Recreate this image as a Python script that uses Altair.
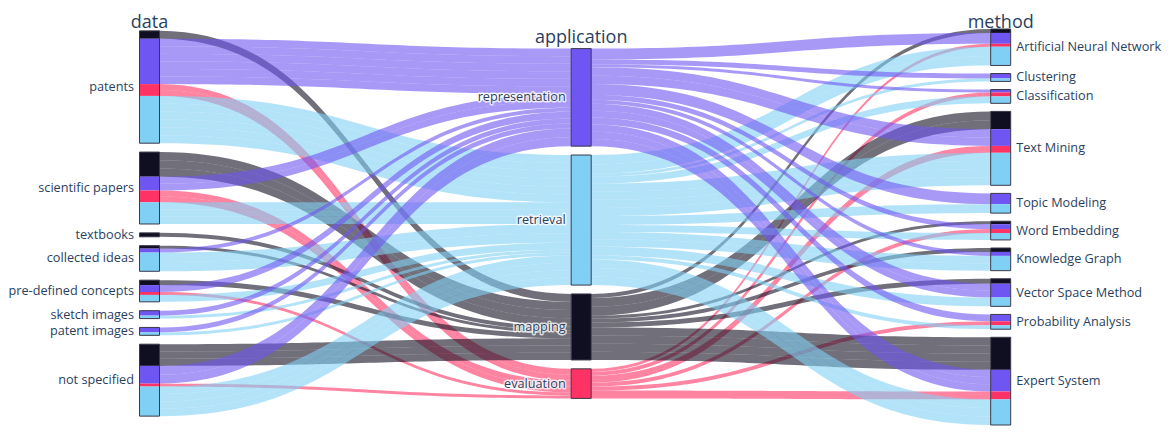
import altair as alt
import numpy as np
import pandas as pd

# ---------------- data ----------------
data_nodes = ["patents", "scientific papers", "textbooks", "collected ideas",
              "pre-defined concepts", "sketch images", "patent images", "not specified"]
method_nodes = ["Artificial Neural Network", "Clustering", "Classification", "Text Mining",
                "Topic Modeling", "Word Embedding", "Knowledge Graph",
                "Vector Space Method", "Probability Analysis", "Expert System"]
applications = ["mapping", "representation", "evaluation", "retrieval"]
application_column = ["representation", "retrieval", "mapping", "evaluation"]
column_titles = ["data", "application", "method"]

# flows data -> application (one value per data node)
data_to_mapping = [8, 25, 4, 3, 5, 0, 0, 22]
data_to_representation = [46, 14, 0, 4, 7, 5, 5, 18]
data_to_evaluation = [12, 12, 0, 0, 3, 0, 0, 3]
data_to_retrieval = [48, 22, 0, 19, 7, 3, 3, 30]

# flows application -> method (one value per method node)
mapping_to_method = [4, 0, 0, 18, 0, 3, 4, 5, 0, 33]
representation_to_method = [11, 5, 3, 17, 11, 5, 4, 14, 7, 22]
evaluation_to_method = [3, 0, 4, 7, 0, 4, 0, 0, 4, 8]
retrieval_to_method = [19, 3, 7, 33, 9, 7, 15, 9, 4, 26]

data_flows = {"mapping": data_to_mapping, "representation": data_to_representation,
              "evaluation": data_to_evaluation, "retrieval": data_to_retrieval}
method_flows = {"mapping": mapping_to_method, "representation": representation_to_method,
                "evaluation": evaluation_to_method, "retrieval": retrieval_to_method}

# ---------------- style / layout ----------------
COLORS = ["#100f22", "#6f55f2", "#fe3264", "#80d0f5"]
TEXT = "#2a3f5f"
FONT = "Open Sans"
PAD = 9.0
CENTER = 226.6
NODE_W = 20.0
COL_X = [139.5, 571.2, 990.7]
W, H = 1153, 418
STRAND = 8.0  # thickness of the individual strands that make up a flow


def stack_centered(totals):
    span = sum(totals) + PAD * (len(totals) - 1)
    return stack_from(totals, CENTER - span / 2, PAD)


def stack_from(totals, top, pad):
    y = top
    out = []
    for t in totals:
        out.append((y, y + t))
        y += t + pad
    return out


left_tot = [sum(data_flows[a][i] for a in applications) for i in range(len(data_nodes))]
mid_tot = [sum(data_flows[a]) for a in application_column]
right_tot = [sum(method_flows[a][j] for a in applications) for j in range(len(method_nodes))]

# vertical scale: slight compression so everything fits in the page
span_r = sum(right_tot) + PAD * (len(right_tot) - 1)
top_ref, bot_ref = CENTER - span_r / 2, CENTER + span_r / 2
s = (425 - 22) / (bot_ref - top_ref)
r0 = top_ref + (8 - 22) / s
r1 = top_ref + (8 + H - 22) / s

left_pos = stack_centered(left_tot)
mid_pos = dict(zip(application_column, stack_centered(mid_tot)))
# right column starts a little lower, leaving room for its title
right_top = top_ref + (29 - 22) / s
pad_r = (bot_ref - right_top - sum(right_tot)) / (len(right_tot) - 1)
right_pos = stack_from(right_tot, right_top, pad_r)

seg_rows, outline_rows, links = [], [], []
left_labels, mid_labels, right_labels = [], [], []

# left column + stage 1 links
mid_in = {a: mid_pos[a][0] for a in application_column}
for i, name in enumerate(data_nodes):
    y0, y1 = left_pos[i]
    outline_rows.append(dict(x=COL_X[0], x2=COL_X[0] + NODE_W, y=y0, y2=y1))
    left_labels.append(dict(x=COL_X[0] - 5.5, y=(y0 + y1) / 2, text=name))
    y = y0
    for a in applications:
        v = data_flows[a][i]
        if v <= 0:
            continue
        seg_rows.append(dict(x=COL_X[0], x2=COL_X[0] + NODE_W, y=y, y2=y + v, app=a))
        links.append((COL_X[0] + NODE_W, y, COL_X[1], mid_in[a], v, a))
        mid_in[a] += v
        y += v

# middle column
for a in application_column:
    y0, y1 = mid_pos[a]
    seg_rows.append(dict(x=COL_X[1], x2=COL_X[1] + NODE_W, y=y0, y2=y1, app=a))
    outline_rows.append(dict(x=COL_X[1], x2=COL_X[1] + NODE_W, y=y0, y2=y1))
    mid_labels.append(dict(x=COL_X[1] - 5.5, y=(y0 + y1) / 2, text=a))

# right column + stage 2 links
mid_out = {a: mid_pos[a][0] for a in application_column}
for j, name in enumerate(method_nodes):
    y0, y1 = right_pos[j]
    outline_rows.append(dict(x=COL_X[2], x2=COL_X[2] + NODE_W, y=y0, y2=y1))
    right_labels.append(dict(x=COL_X[2] + NODE_W + 5.5, y=(y0 + y1) / 2, text=name))
    y = y0
    for a in applications:
        v = method_flows[a][j]
        if v <= 0:
            continue
        seg_rows.append(dict(x=COL_X[2], x2=COL_X[2] + NODE_W, y=y, y2=y + v, app=a))
        links.append((COL_X[1] + NODE_W, mid_out[a], COL_X[2], y, v, a))
        mid_out[a] += v
        y += v

# link bands as bezier ribbons, each split into strands
t = np.linspace(0, 1, 48)
f = 3 * t ** 2 - 2 * t ** 3
link_rows = []
k = 0
for (x0, a0, x1, b0, v, app) in links:
    xm = (x0 + x1) / 2
    bx = (1 - t) ** 3 * x0 + 3 * (1 - t) ** 2 * t * xm + 3 * (1 - t) * t ** 2 * xm + t ** 3 * x1
    n = max(1, int(round(v / STRAND)))
    h = v / n
    for s_i in range(n):
        sa, sb = a0 + s_i * h, b0 + s_i * h
        top = sa * (1 - f) + sb * f
        bot = top + h
        for xx, yt, yb in zip(bx, top, bot):
            link_rows.append(dict(link=k, x=round(float(xx), 2), yt=round(float(yt), 2),
                                  yb=round(float(yb), 2), app=app))
        k += 1

links_df = pd.DataFrame(link_rows)
seg_df = pd.DataFrame(seg_rows)
outline_df = pd.DataFrame(outline_rows)

xs = alt.Scale(domain=[8, 8 + W], nice=False, zero=False)
ys = alt.Scale(domain=[r0, r1], nice=False, zero=False, reverse=True)
cs = alt.Scale(domain=applications, range=COLORS)

link_layer = alt.Chart(links_df).mark_area(opacity=0.6, interpolate="linear").encode(
    x=alt.X("x:Q", scale=xs, axis=None),
    y=alt.Y("yt:Q", scale=ys, axis=None),
    y2="yb:Q",
    detail="link:N",
    color=alt.Color("app:N", scale=cs, legend=None),
)

seg_layer = alt.Chart(seg_df).mark_rect().encode(
    x=alt.X("x:Q", scale=xs, axis=None), x2="x2:Q",
    y=alt.Y("y:Q", scale=ys, axis=None), y2="y2:Q",
    color=alt.Color("app:N", scale=cs, legend=None),
)

outline_layer = alt.Chart(outline_df).mark_rect(
    fillOpacity=0, stroke="#3a3a4a", strokeWidth=1
).encode(
    x=alt.X("x:Q", scale=xs, axis=None), x2="x2:Q",
    y=alt.Y("y:Q", scale=ys, axis=None), y2="y2:Q",
)


def text_layers(rows, align):
    df = pd.DataFrame(rows)
    enc = dict(x=alt.X("x:Q", scale=xs, axis=None), y=alt.Y("y:Q", scale=ys, axis=None),
               text="text:N")
    halo = alt.Chart(df).mark_text(
        align=align, baseline="middle", font=FONT, fontSize=12.7,
        color="white", stroke="white", strokeWidth=3, strokeOpacity=0.75,
        strokeJoin="round",
    ).encode(**enc)
    txt = alt.Chart(df).mark_text(
        align=align, baseline="middle", font=FONT, fontSize=12.7, color=TEXT
    ).encode(**enc)
    return [halo, txt]


title_df = pd.DataFrame(dict(
    x=[cx + NODE_W / 2 for cx in COL_X],
    y=[28.4, 43.0, 27.8],
    text=column_titles,
))
title_layer = alt.Chart(title_df).mark_text(
    align="center", baseline="alphabetic", font=FONT, fontSize=18, color=TEXT
).encode(
    x=alt.X("x:Q", scale=xs, axis=None), y=alt.Y("y:Q", scale=ys, axis=None), text="text:N"
)

layers = [link_layer, seg_layer, outline_layer]
layers += text_layers(left_labels, "right")
layers += text_layers(mid_labels, "right")
layers += text_layers(right_labels, "left")
layers.append(title_layer)

chart = alt.layer(*layers).properties(
    width=W, height=H, padding=0, autosize=alt.AutoSizeParams(type="none")
).configure_view(stroke=None)

chart.save("out.html", embed_options={"renderer": "svg", "actions": False})
